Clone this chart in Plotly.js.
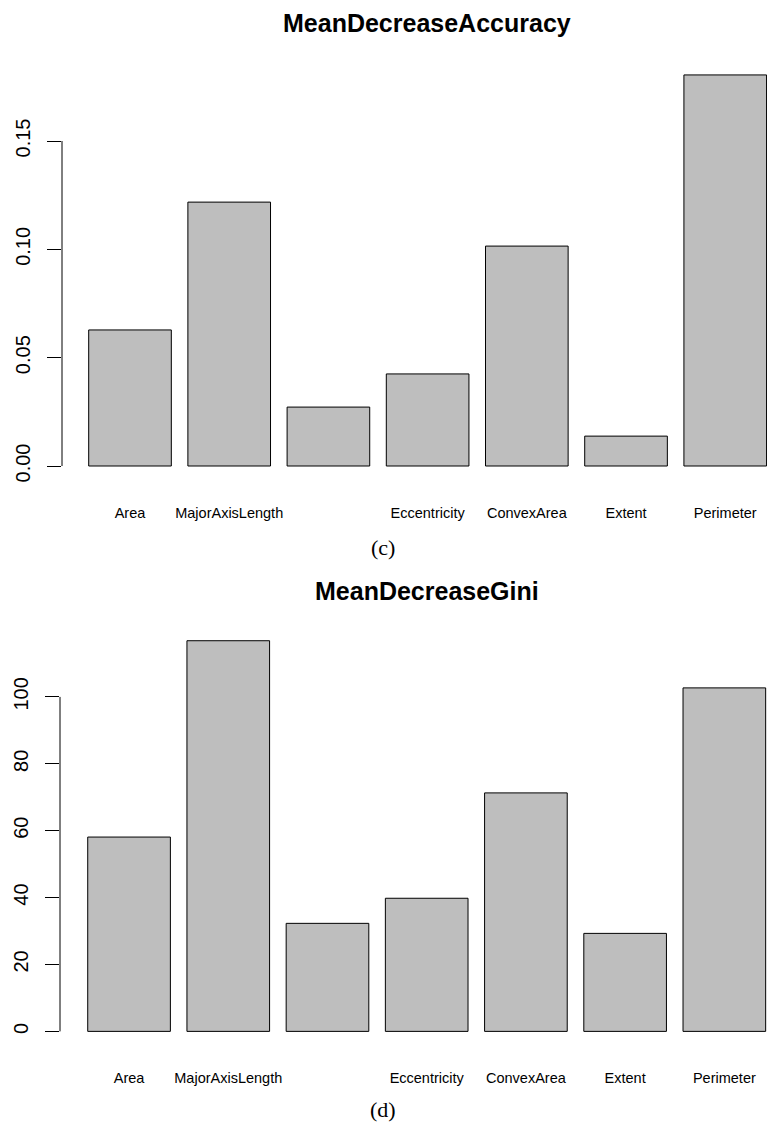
<!DOCTYPE html>
<html>
<head>
<meta charset="utf-8">
<script src="https://cdn.plot.ly/plotly-3.0.1.min.js"></script>
<style>html,body{margin:0;padding:0;background:#fff;}#chart{width:767px;height:1122px;}</style>
</head>
<body>
<div id="chart"></div>
<script>
// Data
const categories = ["Area", "MajorAxisLength", "MinorAxisLength", "Eccentricity", "ConvexArea", "Extent", "Perimeter"];
const tickLabels = ["Area", "MajorAxisLength", "", "Eccentricity", "ConvexArea", "Extent", "Perimeter"];
const meanDecreaseAccuracy = [0.0628, 0.1218, 0.0272, 0.0425, 0.1015, 0.0138, 0.1805];
const meanDecreaseGini = [58.1, 116.8, 32.3, 39.8, 71.3, 29.3, 102.7];
const accTicks = [0, 0.05, 0.10, 0.15];
const accTickText = ["0.00", "0.05", "0.10", "0.15"];
const giniTicks = [0, 20, 40, 60, 80, 100];
const giniTickText = ["0", "20", "40", "60", "80", "100"];

const W = 767, H = 1122;
const py = p => 1 - p / H;
const px = p => p / W;

const barStyle = {color: "#bebebe", line: {color: "#000", width: 1}};
const traces = [
  {type: "bar", x: categories, y: meanDecreaseAccuracy, xaxis: "x", yaxis: "y",
   width: 0.833, marker: barStyle, hoverinfo: "x+y"},
  {type: "bar", x: categories, y: meanDecreaseGini, xaxis: "x2", yaxis: "y2",
   width: 0.833, marker: barStyle, hoverinfo: "x+y"}
];

const tickFont = {family: "Liberation Sans, Arial, sans-serif", size: 20, color: "#000"};
const catFont = {family: "Liberation Sans, Arial, sans-serif", size: 14.5, color: "#000"};

const xBase = {type: "category", categoryorder: "array", categoryarray: categories,
  tickmode: "array", tickvals: categories, ticktext: tickLabels,
  showline: false, showgrid: false, zeroline: false, ticks: "", tickfont: catFont,
  ticklabelstandoff: 20, fixedrange: true};
const yBase = {showline: false, showgrid: false, zeroline: false, ticks: "outside",
  ticklen: 14, tickwidth: 1, tickcolor: "#000", tickangle: -90, tickfont: tickFont,
  tickmode: "array", ticklabelstandoff: 9, fixedrange: true};

const layout = {
  width: W, height: H,
  margin: {l: 0, r: 0, t: 0, b: 0},
  paper_bgcolor: "#fff", plot_bgcolor: "#fff",
  showlegend: false, bargap: 0,
  xaxis: Object.assign({}, xBase, {domain: [px(62), 1], range: [-0.6855, 6.421], anchor: "y"}),
  yaxis: Object.assign({}, yBase, {domain: [py(482), py(59)], range: [-0.00738, 0.18785],
    tickvals: accTicks, ticktext: accTickText, anchor: "x"}),
  xaxis2: Object.assign({}, xBase, {domain: [px(60), 1], range: [-0.696, 6.43], anchor: "y2"}),
  yaxis2: Object.assign({}, yBase, {domain: [py(1047), py(625)], range: [-4.67, 121.5],
    tickvals: giniTicks, ticktext: giniTickText, anchor: "x2"}),
  shapes: [
    {type: "line", xref: "x domain", yref: "y", x0: 0, x1: 0, y0: accTicks[0], y1: accTicks[accTicks.length - 1],
     line: {color: "#000", width: 1}},
    {type: "line", xref: "x2 domain", yref: "y2", x0: 0, x1: 0, y0: giniTicks[0], y1: giniTicks[giniTicks.length - 1],
     line: {color: "#000", width: 1}}
  ],
  annotations: [
    {text: "MeanDecreaseAccuracy", xref: "paper", yref: "paper", x: px(427), y: py(23),
     xanchor: "center", yanchor: "middle", showarrow: false,
     font: {family: "Liberation Sans, Arial, sans-serif", size: 25, weight: "bold", color: "#000"}},
    {text: "MeanDecreaseGini", xref: "paper", yref: "paper", x: px(427), y: py(591),
     xanchor: "center", yanchor: "middle", showarrow: false,
     font: {family: "Liberation Sans, Arial, sans-serif", size: 25, weight: "bold", color: "#000"}},
    {text: "(c)", xref: "paper", yref: "paper", x: px(383), y: py(547),
     xanchor: "center", yanchor: "middle", showarrow: false,
     font: {family: "Liberation Serif, Times New Roman, serif", size: 22, color: "#000"}},
    {text: "(d)", xref: "paper", yref: "paper", x: px(383), y: py(1109),
     xanchor: "center", yanchor: "middle", showarrow: false,
     font: {family: "Liberation Serif, Times New Roman, serif", size: 22, color: "#000"}}
  ]
};

Plotly.newPlot("chart", traces, layout, {displayModeBar: false, staticPlot: true});
</script>
</body>
</html>
